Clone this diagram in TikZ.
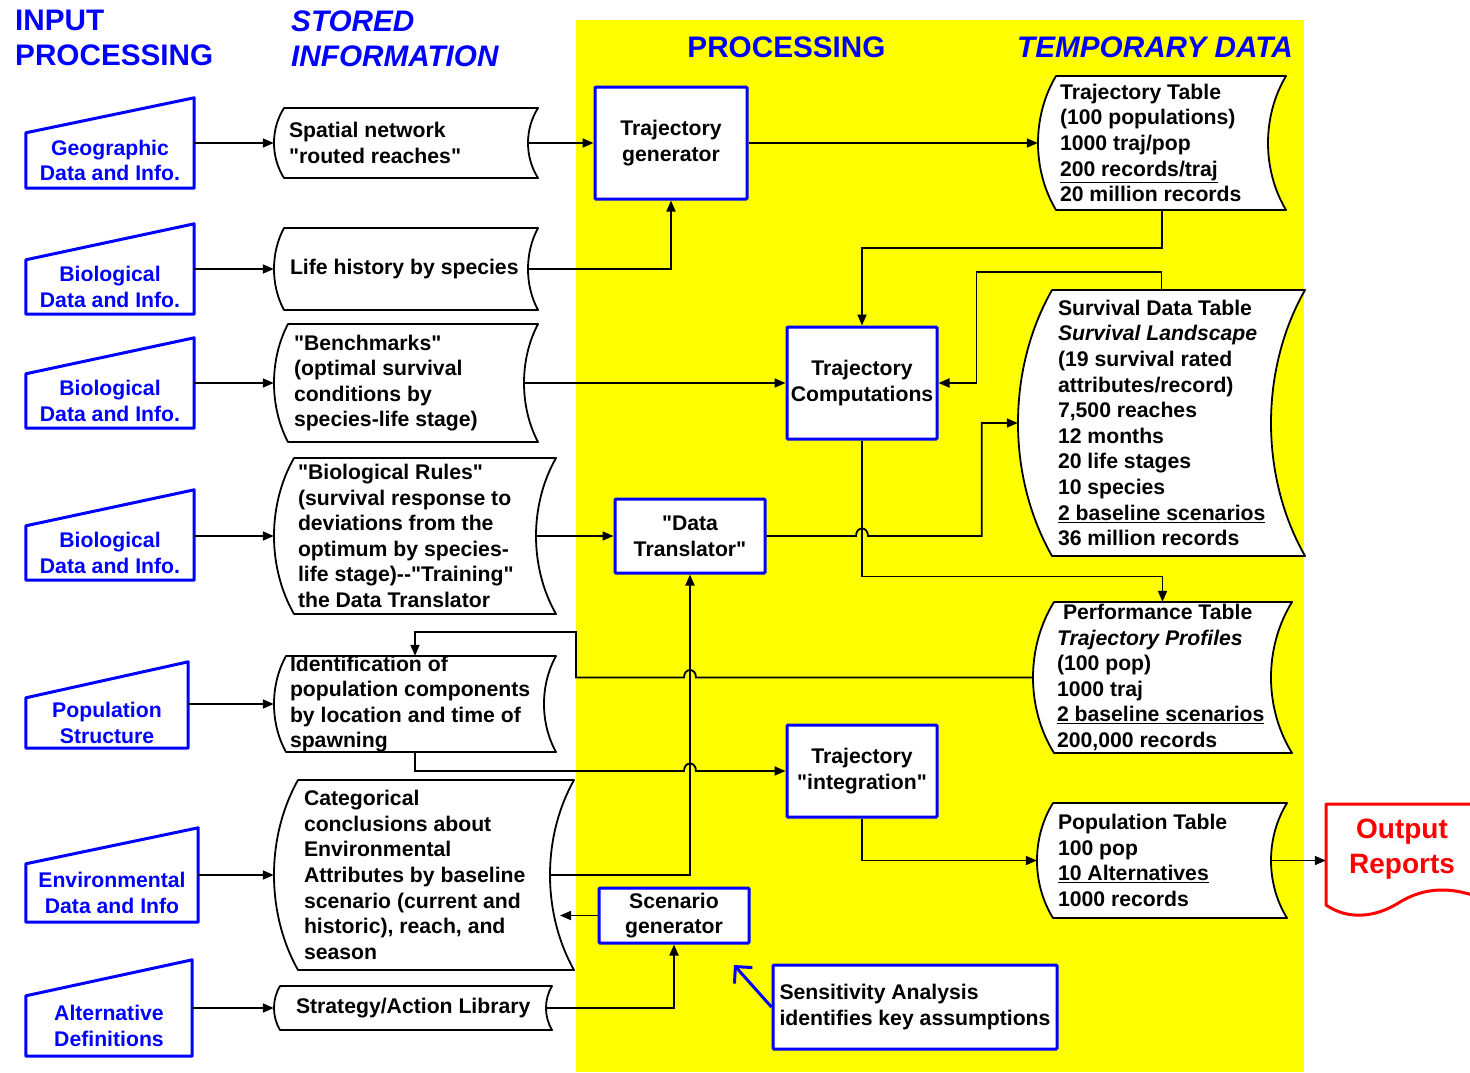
\documentclass[tikz,border=0pt]{standalone}
\usepackage{fontspec}
\setmainfont{Liberation Sans}[Ligatures=TeXOff]
\usetikzlibrary{calc,fit,arrows.meta}
\definecolor{ylw}{RGB}{255,255,0}
\definecolor{pblue}{RGB}{0,0,255}
\definecolor{pred}{RGB}{255,0,0}
\tikzset{
  basefont/.style={font=\fontsize{21.2}{25.6}\selectfont\bfseries},
  sdline/.style={draw=black, line width=1.8pt, fill=white, line join=round},
  txt/.style={basefont, align=left, inner sep=0pt, anchor=west},
  pbox/.style={basefont, draw=pblue, line width=3pt, fill=white, align=center, inner sep=2pt, rounded corners=1pt},
  inline/.style={draw=pblue, line width=3pt, fill=white, line join=round},
  intext/.style={basefont, text=pblue, align=center, inner sep=0pt},
  arr/.style={line width=1.8pt, -{Triangle[length=11pt,width=9pt]}},
  hdr/.style={font=\fontsize{29.7}{35}\selectfont\bfseries, text=pblue, align=left, inner sep=0pt},
  sens/.style={draw=pblue, line width=3pt, -{Straight Barb[length=12pt,width=24pt]}},
}
% stored data shape: name, x1, y1, x2, y2, bulge
\newcommand\sdata[6]{%
  \draw[sdline] (#2+#6,#3) -- (#4,#3)
    .. controls ({#4-4*#6/3},{#3+0.3*(#5-#3)}) and ({#4-4*#6/3},{#5-0.3*(#5-#3)}) .. (#4,#5)
    -- (#2+#6,#5)
    .. controls ({#2-#6/3},{#5-0.3*(#5-#3)}) and ({#2-#6/3},{#3+0.3*(#5-#3)}) .. cycle;
  \node[inner sep=0pt, fit={(#2,#3) (#4,#5)}] (#1) {};
  \coordinate (#1-r) at ({#4-#6},{(#3+#5)/2});
}
% manual input shape: name, x1, y1, x2, y2, rise, text
\newcommand\inbox[7]{%
  \node[inner sep=0pt, fit={(#2,#3) (#4,#5)}] (#1) {};
  \draw[inline] (#1.south west) -- (#1.south east) -- ($(#1.north east)+(0,-#6)$) -- (#1.north west) -- cycle;
  \node[intext] (#1t) at (#1.center) {#7};
}
\begin{document}
\begin{tikzpicture}[x=1pt,y=-1pt]
\useasboundingbox (0,0) rectangle (1470,1072);
\clip (0,0) rectangle (1470,1072);
\fill[white] (0,0) rectangle (1470,1072);
\fill[ylw] (576,20) rectangle (1304,1072);

% headers
\node[hdr, anchor=west] (h1) at (15,37.5) {INPUT\\PROCESSING};
\node[hdr, anchor=west, font=\fontsize{29.7}{35}\selectfont\bfseries\itshape] (h2) at (291,39) {STORED\\INFORMATION};
\node[hdr] (h3) at (786.5,47) {PROCESSING};
\node[hdr, font=\fontsize{29.7}{35}\selectfont\bfseries\itshape] (h4) at (1155,47) {TEMPORARY DATA};

% input processing
\inbox{geo}{26}{133}{194}{188}{35}{Geographic\\Data and Info.}
\inbox{bioa}{26}{260}{194}{314}{36}{Biological\\Data and Info.}
\inbox{biob}{26}{374}{194}{428}{36}{Biological\\Data and Info.}
\inbox{bioc}{26}{526}{194}{580}{36}{Biological\\Data and Info.}
\inbox{pop}{26}{698}{188}{748}{36}{Population\\Structure}
\inbox{env}{26}{864}{198}{922}{36}{Environmental\\Data and Info}
\inbox{alt}{26}{996}{192}{1056}{36}{Alternative\\Definitions}

% stored information
\sdata{A}{274}{108}{538}{178}{10}
\sdata{B}{274}{228}{538}{310}{10}
\sdata{C}{274}{324}{538}{442}{14}
\sdata{D}{274}{458}{556}{614}{20}
\sdata{E}{274}{656}{556}{752}{12}
\sdata{F}{274}{780}{574}{970}{24}
\sdata{G}{274}{986}{552}{1030}{6}
\node[txt] (At) at ($(A.west)+(15,0)$) {Spatial network\\"routed reaches"};
\node[txt] (Bt) at ($(B.west)+(16,0)$) {Life history by species};
\node[txt] (Ct) at ($(C.west)+(20,0)$) {"Benchmarks"\\(optimal survival\\conditions by\\species-life stage)};
\node[txt] (Dt) at ($(D.west)+(24,0)$) {"Biological Rules"\\(survival response to\\deviations from the\\optimum by species-\\life stage)--"Training"\\the Data Translator};
\node[txt] (Et) at ($(E.west)+(16,0)$) {Identification of\\population components\\by location and time of\\spawning};
\node[txt] (Ft) at ($(F.west)+(30,0)$) {Categorical\\conclusions about\\Environmental\\Attributes by baseline\\scenario (current and\\historic), reach, and\\season};
\node[txt] (Gt) at ($(G.west)+(22,0)$) {Strategy/Action Library};

% temporary data
\sdata{T1}{1038}{76}{1286}{210}{18}
\sdata{T2}{1018}{290}{1305}{556}{34}
\sdata{T3}{1033}{602}{1292}{753}{21}
\sdata{T4}{1037}{803}{1287}{918}{16}
\node[txt] (T1t) at ($(T1.west)+(22,0)$) {Trajectory Table\\(100 populations)\\1000 traj/pop\\\underline{200 records/traj}\\20 million records};
\node[txt] (T2t) at ($(T2.west)+(40,0)$) {Survival Data Table\\\textit{Survival Landscape}\\(19 survival rated\\attributes/record)\\7,500 reaches\\12 months\\20 life stages\\10 species\\\underline{2 baseline scenarios}\\36 million records};
\node[txt] (T3t) at ($(T3.west)+(24,0)$) {\hspace{6pt}Performance Table\\\textit{Trajectory Profiles}\\(100 pop)\\1000 traj\\\underline{2 baseline scenarios}\\200,000 records};
\node[txt] (T4t) at ($(T4.west)+(21,0)$) {Population Table\\100 pop\\\underline{10 Alternatives}\\1000 records};

% processing boxes
\node[pbox, minimum width=152pt, minimum height=112pt] (P1) at (671,143) {Trajectory\\generator};
\node[pbox, minimum width=150pt, minimum height=112pt] (P2) at (862,383) {Trajectory\\Computations};
\node[pbox, minimum width=150pt, minimum height=74pt] (P3) at (690,536) {"Data\\Translator"};
\node[pbox, minimum width=150pt, minimum height=92pt] (P4) at (862,771) {Trajectory\\"integration"};
\node[pbox, minimum width=150pt, minimum height=55pt] (P5) at (674,915.5) {Scenario\\generator};
\node[pbox, align=left, minimum width=284pt, minimum height=84pt] (P6) at (915,1007) {Sensitivity Analysis\\identifies key assumptions};

% output reports
\draw[draw=pred, line width=3pt, fill=white, line join=round] (1326,804) -- (1490,804) -- (1490,902)
  .. controls (1460,888) and (1430,884) .. (1400,902)
  .. controls (1375,918) and (1348,920) .. (1326,905) -- cycle;
\node[inner sep=0pt, fit={(1326,804) (1490,905)}] (outbox) {};
\node[font=\fontsize{28}{35}\selectfont\bfseries, text=pred, align=center, inner sep=0pt] (out) at (1402,849) {Output\\Reports};

% connectors
\coordinate (c1) at (576,632);
\coordinate (sensTip) at (734,965);
\draw[arr] (geo.east|-A.west) -- (A.west);
\draw[arr] (A-r) -- (P1.west);
\draw[arr] (P1.east) -- (T1.west);
\draw[arr] (bioa.east|-B.west) -- (B.west);
\draw[arr] (B-r) -| (P1.south);
\draw[arr] (biob.east|-C.west) -- (C.west);
\draw[arr] (C-r) -- (P2.west);
\draw[arr] (T1.south) -- ++(0,38) -| (P2.north);
\draw[arr] (T2.north) -- ++(0,-18) -| ($(P2.east)+(38,0)$) -- (P2.east);
\draw[arr] (bioc.east|-D.west) -- (D.west);
\draw[arr] (D-r) -- (P3.west);
\draw[arr] (P2.south) -- ++(0,136) -| (T3.north);
\draw[arr] (env.east|-F.west) -- (F.west);
\draw[arr] (F-r) -| (P3.south);
\draw[arr] (P3.east) -- ($(P2.south|-P3.east)+(-6,0)$) .. controls +(0,-10) and +(0,-10) .. ($(P2.south|-P3.east)+(6,0)$) -- ($(T2.west|-P3.east)+(-36,0)$) |- (T2.west);
\draw[arr] (T3.west) -- ($(P3.south|-T3.west)+(6,0)$) .. controls +(0,-10) and +(0,-10) .. ($(P3.south|-T3.west)+(-6,0)$) -- (c1|-T3.west) -- (c1) -| (E.north);
\draw[arr] (pop.east|-E.west) -- (E.west);
\draw[arr] (E.south) |- ($(P3.south|-P4.west)+(-6,0)$) .. controls +(0,-10) and +(0,-10) .. ($(P3.south|-P4.west)+(6,0)$) -- (P4.west);
\draw[arr] (P5.west) -- ($(F-r|-P5.west)+(10,0)$);
\draw[arr] (alt.east|-G.west) -- (G.west);
\draw[arr] (G-r) -| (P5.south);
\draw[arr] (P4.south) |- (T4.west);
\draw[arr] (T4-r) -- (outbox.west|-T4-r);
\draw[sens] (P6.west) -- (sensTip);
\end{tikzpicture}
\end{document}
